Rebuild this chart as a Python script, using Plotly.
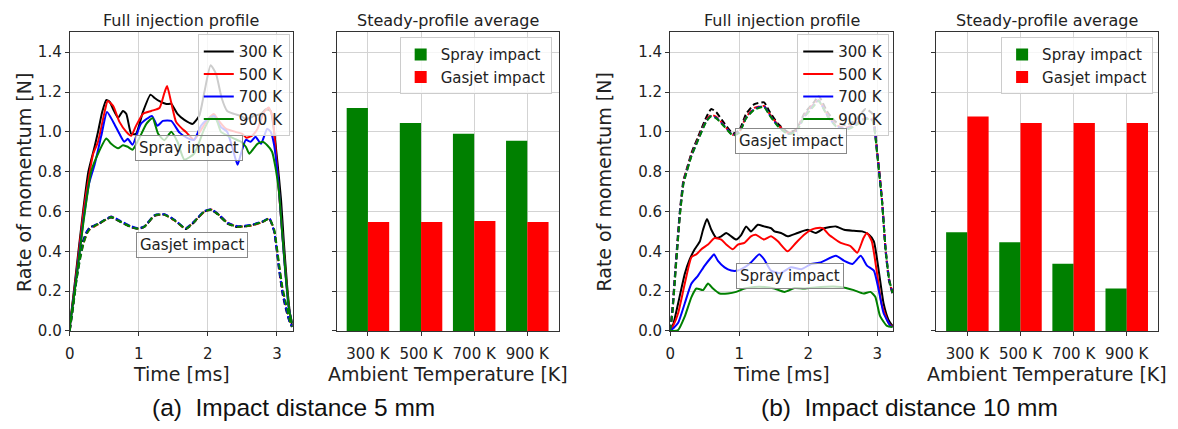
import plotly.graph_objects as go

W, H = 1178, 429

# ---------------- data ----------------
temps = ["300 K", "500 K", "700 K", "900 K"]
line_colors = ["#000000", "#ff0000", "#0000ff", "#008000"]

# (a) impact distance 5 mm -- spray impact (solid)
a_spray_300_t = [0, 0.1, 0.2, 0.27, 0.36, 0.41, 0.47, 0.53, 0.58, 0.63, 0.70, 0.77, 0.82, 0.89, 0.96, 1.06, 1.17, 1.23, 1.30, 1.40, 1.47, 1.56, 1.66, 1.78, 1.875, 1.95, 2.04, 2.12, 2.20, 2.28, 2.38, 2.48, 2.55, 2.67, 2.77, 2.84, 2.91, 2.96, 3.01, 3.06, 3.10, 3.15, 3.2, 3.22]
a_spray_300_v = [0.02, 0.32, 0.62, 0.8, 0.925, 1.0, 1.1, 1.16, 1.15, 1.113, 1.07, 1.105, 1.09, 0.99, 0.99, 1.1, 1.187, 1.17, 1.154, 1.14, 1.14, 1.09, 1.06, 1.04, 1.08, 1.2, 1.335, 1.29, 1.17, 1.105, 1.09, 1.08, 1.063, 1.08, 1.09, 1.113, 1.105, 1.0, 0.84, 0.66, 0.45, 0.22, 0.06, 0.03]
a_spray_500_t = [0, 0.1, 0.2, 0.29, 0.34, 0.41, 0.505, 0.55, 0.63, 0.72, 0.82, 0.89, 0.96, 1.06, 1.18, 1.30, 1.37, 1.41, 1.47, 1.54, 1.63, 1.68, 1.80, 1.92, 2.0, 2.09, 2.16, 2.26, 2.40, 2.50, 2.56, 2.645, 2.72, 2.81, 2.88, 2.935, 2.98, 3.03, 3.08, 3.13, 3.18, 3.22]
a_spray_500_v = [0.02, 0.3, 0.6, 0.80, 0.89, 0.95, 1.10, 1.155, 1.13, 1.05, 1.0, 0.98, 1.03, 1.09, 1.105, 1.12, 1.195, 1.23, 1.147, 1.05, 1.015, 1.0, 0.96, 1.02, 1.063, 1.089, 1.055, 1.016, 1.0, 0.99, 0.97, 0.982, 1.016, 1.097, 1.122, 1.08, 0.916, 0.70, 0.48, 0.27, 0.1, 0.04]
a_spray_700_t = [0, 0.1, 0.2, 0.28, 0.36, 0.457, 0.54, 0.63, 0.72, 0.79, 0.84, 0.91, 1.03, 1.19, 1.27, 1.35, 1.47, 1.59, 1.7, 1.8, 1.9, 1.995, 2.09, 2.19, 2.28, 2.36, 2.43, 2.48, 2.55, 2.62, 2.69, 2.77, 2.86, 2.91, 2.96, 3.02, 3.07, 3.12, 3.17, 3.22]
a_spray_700_v = [0.02, 0.28, 0.56, 0.74, 0.835, 0.98, 1.10, 1.05, 0.99, 0.95, 0.965, 0.935, 1.04, 1.08, 1.03, 1.055, 1.055, 0.996, 0.97, 0.96, 1.03, 1.063, 1.08, 1.024, 1.0, 0.916, 0.835, 0.89, 0.96, 0.95, 0.975, 0.94, 1.016, 1.0, 0.933, 0.75, 0.52, 0.3, 0.12, 0.04]
a_spray_900_t = [0, 0.1, 0.2, 0.31, 0.41, 0.53, 0.60, 0.70, 0.77, 0.84, 0.91, 1.01, 1.11, 1.20, 1.28, 1.37, 1.47, 1.56, 1.66, 1.8, 1.95, 2.04, 2.12, 2.19, 2.28, 2.38, 2.48, 2.55, 2.60, 2.65, 2.72, 2.79, 2.86, 2.93, 2.98, 3.03, 3.08, 3.13, 3.18, 3.22]
a_spray_900_v = [0.02, 0.27, 0.55, 0.80, 0.89, 0.966, 0.94, 0.917, 0.933, 0.925, 0.91, 0.97, 1.04, 1.07, 0.99, 0.958, 1.0, 0.95, 0.86, 0.89, 1.016, 1.07, 1.063, 1.0, 0.982, 0.966, 0.95, 0.925, 0.89, 0.91, 0.94, 0.95, 0.933, 0.9, 0.82, 0.70, 0.48, 0.27, 0.1, 0.04]

# (a) gasjet impact (dashed)
a_gas_t = [0, 0.05, 0.1, 0.15, 0.2, 0.25, 0.29, 0.36, 0.43, 0.505, 0.6, 0.745, 0.88, 0.985, 1.08, 1.23, 1.37, 1.516, 1.68, 1.80, 1.95, 2.05, 2.14, 2.29, 2.43, 2.62, 2.79, 2.89, 2.96, 3.03, 3.08, 3.13, 3.18, 3.22]
a_gas_300_v = [0.0, 0.14, 0.28, 0.39, 0.46, 0.5, 0.52, 0.53, 0.54, 0.556, 0.57, 0.545, 0.522, 0.513, 0.522, 0.578, 0.585, 0.557, 0.512, 0.545, 0.6, 0.607, 0.586, 0.538, 0.522, 0.53, 0.548, 0.562, 0.5, 0.31, 0.19, 0.11, 0.05, 0.02]
a_gas_500_v = [0.0, 0.13, 0.27, 0.37, 0.44, 0.49, 0.51, 0.525, 0.54, 0.555, 0.574, 0.548, 0.525, 0.515, 0.524, 0.58, 0.583, 0.555, 0.515, 0.548, 0.598, 0.61, 0.59, 0.542, 0.524, 0.528, 0.546, 0.565, 0.505, 0.33, 0.21, 0.13, 0.06, 0.02]
a_gas_700_v = [0.0, 0.13, 0.26, 0.37, 0.45, 0.5, 0.515, 0.53, 0.542, 0.558, 0.575, 0.55, 0.527, 0.516, 0.525, 0.582, 0.586, 0.558, 0.516, 0.55, 0.602, 0.611, 0.59, 0.543, 0.526, 0.532, 0.55, 0.566, 0.5, 0.32, 0.2, 0.12, 0.05, 0.02]
a_gas_900_v = [0.0, 0.12, 0.26, 0.36, 0.44, 0.49, 0.51, 0.528, 0.54, 0.556, 0.572, 0.547, 0.524, 0.514, 0.523, 0.58, 0.584, 0.556, 0.514, 0.547, 0.6, 0.608, 0.588, 0.54, 0.523, 0.53, 0.547, 0.564, 0.51, 0.34, 0.22, 0.14, 0.06, 0.02]

# (b) impact distance 10 mm -- spray impact (solid)
b_spray_300_t = [0, 0.05, 0.116, 0.212, 0.284, 0.355, 0.43, 0.476, 0.533, 0.596, 0.668, 0.74, 0.812, 0.884, 0.956, 1.03, 1.10, 1.17, 1.27, 1.36, 1.46, 1.51, 1.605, 1.70, 1.845, 1.99, 2.11, 2.23, 2.40, 2.52, 2.66, 2.78, 2.88, 2.95, 3.02, 3.09, 3.16, 3.22]
b_spray_300_v = [0.0, 0.04, 0.139, 0.287, 0.36, 0.41, 0.45, 0.508, 0.562, 0.508, 0.467, 0.475, 0.492, 0.475, 0.459, 0.483, 0.525, 0.5, 0.533, 0.525, 0.516, 0.5, 0.492, 0.475, 0.492, 0.508, 0.492, 0.516, 0.525, 0.508, 0.503, 0.5, 0.483, 0.45, 0.303, 0.139, 0.057, 0.025]
b_spray_500_t = [0, 0.05, 0.116, 0.212, 0.308, 0.38, 0.452, 0.548, 0.644, 0.74, 0.812, 0.908, 0.98, 1.076, 1.17, 1.24, 1.36, 1.46, 1.56, 1.70, 1.82, 1.94, 2.04, 2.11, 2.21, 2.30, 2.47, 2.61, 2.71, 2.80, 2.85, 2.92, 2.99, 3.06, 3.16, 3.22]
b_spray_500_v = [0.0, 0.03, 0.09, 0.238, 0.37, 0.385, 0.41, 0.434, 0.467, 0.459, 0.434, 0.41, 0.434, 0.442, 0.475, 0.483, 0.459, 0.475, 0.45, 0.40, 0.442, 0.483, 0.508, 0.516, 0.516, 0.483, 0.442, 0.426, 0.393, 0.467, 0.492, 0.45, 0.303, 0.139, 0.041, 0.02]
b_spray_700_t = [0, 0.05, 0.116, 0.212, 0.308, 0.404, 0.5, 0.596, 0.635, 0.692, 0.788, 0.884, 0.98, 1.076, 1.17, 1.29, 1.36, 1.46, 1.6, 1.75, 1.9, 2.04, 2.18, 2.40, 2.52, 2.64, 2.76, 2.85, 2.95, 3.02, 3.09, 3.19, 3.22]
b_spray_700_v = [0.0, 0.015, 0.041, 0.139, 0.238, 0.278, 0.328, 0.37, 0.385, 0.352, 0.319, 0.303, 0.303, 0.319, 0.344, 0.385, 0.36, 0.303, 0.29, 0.32, 0.31, 0.336, 0.344, 0.377, 0.352, 0.336, 0.377, 0.328, 0.303, 0.205, 0.09, 0.025, 0.02]
b_spray_900_t = [0, 0.05, 0.116, 0.212, 0.308, 0.38, 0.476, 0.548, 0.62, 0.716, 0.836, 0.956, 1.076, 1.22, 1.36, 1.51, 1.655, 1.8, 1.94, 2.18, 2.47, 2.66, 2.80, 2.90, 2.97, 3.04, 3.14, 3.22]
b_spray_900_v = [0.0, 0.0, 0.005, 0.073, 0.17, 0.213, 0.205, 0.238, 0.213, 0.188, 0.188, 0.196, 0.213, 0.221, 0.221, 0.213, 0.196, 0.215, 0.213, 0.221, 0.221, 0.205, 0.188, 0.196, 0.172, 0.074, 0.025, 0.02]

# (b) gasjet impact (dashed)
b_gas_t = [0, 0.035, 0.07, 0.116, 0.144, 0.193, 0.212, 0.308, 0.404, 0.524, 0.596, 0.668, 0.788, 0.908, 1.0, 1.1, 1.22, 1.36, 1.43, 1.56, 1.7, 1.82, 1.94, 2.08, 2.15, 2.28, 2.40, 2.54, 2.68, 2.83, 2.93, 3.0, 3.07, 3.12, 3.17, 3.22]
b_gas_300_v = [0.0, 0.12, 0.287, 0.5, 0.615, 0.76, 0.78, 0.893, 0.975, 1.074, 1.115, 1.098, 1.041, 0.992, 1.008, 1.09, 1.139, 1.148, 1.107, 1.041, 1.0, 1.01, 1.09, 1.148, 1.18, 1.098, 1.05, 1.033, 1.057, 1.115, 1.09, 0.893, 0.647, 0.40, 0.25, 0.19]
b_gas_500_v = [0.0, 0.11, 0.27, 0.48, 0.6, 0.75, 0.775, 0.885, 0.965, 1.06, 1.085, 1.075, 1.03, 0.985, 1.0, 1.075, 1.12, 1.13, 1.095, 1.035, 0.995, 1.005, 1.08, 1.14, 1.16, 1.085, 1.035, 1.02, 1.04, 1.07, 1.06, 0.89, 0.65, 0.41, 0.26, 0.19]
b_gas_700_v = [0.0, 0.11, 0.27, 0.48, 0.6, 0.745, 0.77, 0.88, 0.96, 1.055, 1.08, 1.07, 1.028, 0.984, 0.998, 1.07, 1.115, 1.128, 1.09, 1.03, 0.99, 1.0, 1.075, 1.135, 1.158, 1.08, 1.03, 1.015, 1.035, 1.068, 1.058, 0.885, 0.645, 0.41, 0.26, 0.19]
b_gas_900_v = [0.0, 0.1, 0.26, 0.47, 0.59, 0.74, 0.765, 0.878, 0.958, 1.052, 1.078, 1.068, 1.025, 0.982, 0.995, 1.068, 1.112, 1.125, 1.088, 1.028, 0.99, 0.998, 1.072, 1.13, 1.155, 1.078, 1.028, 1.01, 1.03, 1.066, 1.056, 0.88, 0.64, 0.41, 0.26, 0.19]

# steady-profile averages
a_bar_spray = [1.12, 1.045, 0.99, 0.955]
a_bar_gasjet = [0.547, 0.547, 0.552, 0.547]
b_bar_spray = [0.495, 0.446, 0.338, 0.213]
b_bar_gasjet = [1.077, 1.044, 1.044, 1.044]

y_ticks = [0.0, 0.2, 0.4, 0.6, 0.8, 1.0, 1.2, 1.4]
x_ticks = [0, 1, 2, 3]

# ---------------- figure ----------------
FONT = "DejaVu Sans"
fig = go.Figure()

a_spray = [(a_spray_300_t, a_spray_300_v), (a_spray_500_t, a_spray_500_v),
           (a_spray_700_t, a_spray_700_v), (a_spray_900_t, a_spray_900_v)]
a_gas = [a_gas_300_v, a_gas_500_v, a_gas_700_v, a_gas_900_v]
b_spray = [(b_spray_300_t, b_spray_300_v), (b_spray_500_t, b_spray_500_v),
           (b_spray_700_t, b_spray_700_v), (b_spray_900_t, b_spray_900_v)]
b_gas = [b_gas_300_v, b_gas_500_v, b_gas_700_v, b_gas_900_v]

for i, name in enumerate(temps):
    t, v = a_spray[i]
    fig.add_trace(go.Scatter(x=t, y=v, mode="lines", name=name, xaxis="x", yaxis="y",
                             line=dict(color=line_colors[i], width=2, shape="spline", smoothing=0.5),
                             legend="legend"))
    fig.add_trace(go.Scatter(x=a_gas_t, y=a_gas[i], mode="lines", name=name, xaxis="x", yaxis="y",
                             showlegend=False,
                             line=dict(color=line_colors[i], width=2, dash="6px,3px", shape="spline", smoothing=0.5)))

for i, name in enumerate(temps):
    t, v = b_spray[i]
    fig.add_trace(go.Scatter(x=t, y=v, mode="lines", name=name, xaxis="x3", yaxis="y3",
                             line=dict(color=line_colors[i], width=2, shape="spline", smoothing=0.5),
                             legend="legend3"))
    fig.add_trace(go.Scatter(x=b_gas_t, y=b_gas[i], mode="lines", name=name, xaxis="x3", yaxis="y3",
                             showlegend=False,
                             line=dict(color=line_colors[i], width=2, dash="6px,3px", shape="spline", smoothing=0.5)))

fig.add_trace(go.Bar(x=temps, y=a_bar_spray, name="Spray impact", marker_color="#008000",
                     marker_line_width=0, xaxis="x2", yaxis="y2", legend="legend2"))
fig.add_trace(go.Bar(x=temps, y=a_bar_gasjet, name="Gasjet impact", marker_color="#ff0000",
                     marker_line_width=0, xaxis="x2", yaxis="y2", legend="legend2"))
fig.add_trace(go.Bar(x=temps, y=b_bar_spray, name="Spray impact", marker_color="#008000",
                     marker_line_width=0, xaxis="x4", yaxis="y4", legend="legend4"))
fig.add_trace(go.Bar(x=temps, y=b_bar_gasjet, name="Gasjet impact", marker_color="#ff0000",
                     marker_line_width=0, xaxis="x4", yaxis="y4", legend="legend4"))


def xd(a, b):
    return [a / W, b / W]


def yd(top, bottom):
    return [1 - bottom / H, 1 - top / H]


AX = dict(showline=True, mirror=True, linecolor="#333", linewidth=1, ticks="outside", ticklen=4,
          tickcolor="#333", showgrid=True, gridcolor="#d3d3d3", gridwidth=1, zeroline=False,
          tickfont=dict(family=FONT, size=15, color="#222"))
XAX = dict(AX, ticklabelstandoff=5)

ydom = yd(33, 338)
lay = dict(
    width=W, height=H, margin=dict(l=0, r=0, t=0, b=0),
    paper_bgcolor="white", plot_bgcolor="white",
    font=dict(family=FONT, color="#222"),
    barmode="group", bargap=0.2, bargroupgap=0,
    xaxis=dict(XAX, domain=xd(65, 289), range=[0, 3.23], tickvals=x_ticks, anchor="y"),
    yaxis=dict(AX, domain=ydom, range=[0, 1.5], tickvals=y_ticks, tickformat=".1f", anchor="x"),
    xaxis2=dict(XAX, domain=xd(333, 556), type="category", range=[-0.59, 3.59], anchor="y2"),
    yaxis2=dict(AX, domain=ydom, range=[0, 1.5], tickvals=y_ticks, showticklabels=False, anchor="x2"),
    xaxis3=dict(XAX, domain=xd(668, 892), range=[0, 3.23], tickvals=x_ticks, anchor="y3"),
    yaxis3=dict(AX, domain=ydom, range=[0, 1.5], tickvals=y_ticks, tickformat=".1f", anchor="x3"),
    xaxis4=dict(XAX, domain=xd(935, 1158), type="category", range=[-0.59, 3.59], anchor="y4"),
    yaxis4=dict(AX, domain=ydom, range=[0, 1.5], tickvals=y_ticks, showticklabels=False, anchor="x4"),
)

LEG = dict(bgcolor="rgba(255,255,255,0.8)", bordercolor="#cccccc", borderwidth=1,
           font=dict(family=FONT, size=15, color="#222"), xanchor="right", yanchor="top",
           tracegroupgap=0, itemwidth=30)
lay["legend"] = dict(LEG, x=286 / W, y=1 - 35 / H)
lay["legend2"] = dict(LEG, x=549 / W, y=1 - 38 / H)
lay["legend3"] = dict(LEG, x=888 / W, y=1 - 35 / H)
lay["legend4"] = dict(LEG, x=1153 / W, y=1 - 38 / H)
fig.update_layout(**lay)

ann = []
# subplot titles
for a, b, txt in [(65, 289, "Full injection profile"), (333, 556, "Steady-profile average"),
                  (668, 892, "Full injection profile"), (935, 1158, "Steady-profile average")]:
    ann.append(dict(x=(a + b) / 2 / W, y=1 - 21 / H, xref="paper", yref="paper", text=txt,
                    showarrow=False, font=dict(family=FONT, size=16, color="#222"),
                    xanchor="center", yanchor="middle"))
# axis titles
for a, b, txt in [(65, 289, "Time [ms]"), (333, 556, "Ambient Temperature [K]"),
                  (668, 892, "Time [ms]"), (935, 1158, "Ambient Temperature [K]")]:
    ann.append(dict(x=(a + b) / 2 / W, y=1 - 382 / H, xref="paper", yref="paper", text=txt,
                    showarrow=False, font=dict(family=FONT, size=19, color="#222"),
                    xanchor="center", yanchor="middle"))
for xc in [19, 602]:
    ann.append(dict(x=xc / W, y=1 - 186 / H, xref="paper", yref="paper", text="Rate of momentum [N]",
                    textangle=-90, showarrow=False, font=dict(family=FONT, size=19, color="#222"),
                    xanchor="center", yanchor="middle"))
# in-plot labels
BOX = dict(showarrow=False, bgcolor="rgba(255,255,255,0.75)", bordercolor="#888888", borderwidth=1,
           borderpad=3, font=dict(family=FONT, size=15, color="#222"))
ann.append(dict(BOX, x=1.73, y=0.92, xref="x", yref="y", text="Spray impact"))
ann.append(dict(BOX, x=1.775, y=0.433, xref="x", yref="y", text="Gasjet impact"))
ann.append(dict(BOX, x=1.75, y=0.956, xref="x3", yref="y3", text="Gasjet impact"))
ann.append(dict(BOX, x=1.74, y=0.277, xref="x3", yref="y3", text="Spray impact"))
# captions
CAP = dict(family="Liberation Sans, Arial, sans-serif", size=24.5, color="#111")
ann.append(dict(x=290 / W, y=1 - 416 / H, xref="paper", yref="paper", text="(a)  Impact distance 5 mm",
                showarrow=False, font=CAP, xanchor="center", yanchor="middle"))
ann.append(dict(x=908 / W, y=1 - 416 / H, xref="paper", yref="paper", text="(b)  Impact distance 10 mm",
                showarrow=False, font=CAP, xanchor="center", yanchor="middle"))
fig.update_layout(annotations=ann)

fig.write_html("out.html", config={"displayModeBar": False},
               post_script="document.body.style.margin='0';document.body.style.overflow='hidden';")
